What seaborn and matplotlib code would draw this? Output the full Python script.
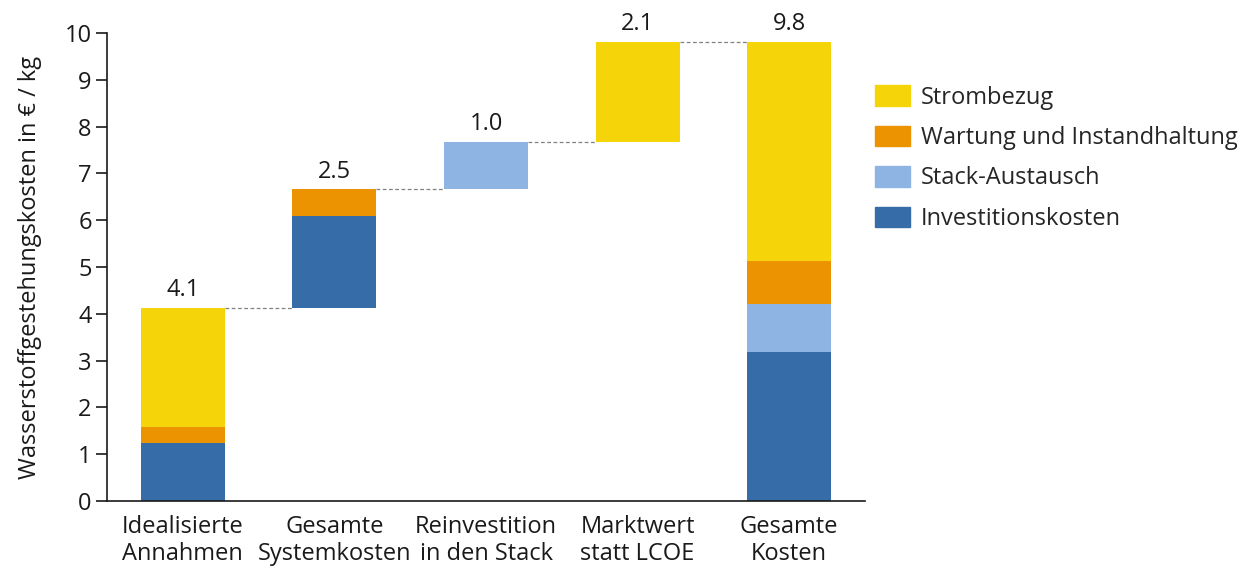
import matplotlib
matplotlib.use("Agg")
import matplotlib.pyplot as plt
import matplotlib.patches as mpatches
import seaborn as sns
import pandas as pd
import numpy as np

categories = ["Idealisierte\nAnnahmen", "Gesamte\nSystemkosten", "Reinvestition\nin den Stack",
              "Marktwert\nstatt LCOE", "Gesamte\nKosten"]
is_total = [False, False, False, False, True]
investitionskosten = [1.23, 1.95, 0.0, 0.0, 3.18]
stack_austausch = [0.0, 0.0, 1.02, 0.0, 1.02]
wartung = [0.35, 0.58, 0.0, 0.0, 0.93]
strombezug = [2.55, 0.0, 0.0, 2.13, 4.68]

series_names = ["Investitionskosten", "Stack-Austausch", "Wartung und Instandhaltung", "Strombezug"]
series_values = [investitionskosten, stack_austausch, wartung, strombezug]
colors = {"Strombezug": "#F5D50A", "Wartung und Instandhaltung": "#EB9300",
          "Stack-Austausch": "#8DB4E2", "Investitionskosten": "#366CA7"}

sns.set_theme(style="white")
plt.rcParams["font.family"] = ["Open Sans", "DejaVu Sans"]
FS = 17

fig = plt.figure(figsize=(12.52, 5.68), dpi=100)
ax = fig.add_axes([107 / 1252, 67 / 568, (865 - 107) / 1252, (501 - 33) / 568])

totals = np.sum(np.array(series_values), axis=0)
base = np.zeros(len(categories))
run = 0.0
for i in range(len(categories)):
    if is_total[i]:
        base[i] = 0.0
    else:
        base[i] = run
        run += totals[i]

bottom = base.copy()
width = 0.555
for name, vals in zip(series_names, series_values):
    df = pd.DataFrame({"cat": categories, "val": vals})
    sns.barplot(data=df, x="cat", y="val", order=categories, color=colors[name],
                bottom=bottom.copy(), width=width, linewidth=0, saturation=1,
                errorbar=None, ax=ax)
    bottom = bottom + np.array(vals)

tops = base + totals
for i in range(len(categories)):
    ax.text(i, tops[i] + 0.12, f"{totals[i]:.1f}", ha="center", va="bottom",
            fontsize=FS, color="#1a1a1a")
for i in range(len(categories) - 1):
    ax.plot([i + width / 2, i + 1 - width / 2], [tops[i], tops[i]], ls=(0, (3, 2)),
            color="#808080", lw=0.9)

ax.set_xlim(-0.5, len(categories) - 0.5)
ax.set_ylim(0, 10)
ax.set_yticks(range(0, 11))
ax.set_xlabel("")
ax.set_ylabel("Wasserstoffgestehungskosten in € / kg", fontsize=FS, color="#1a1a1a", labelpad=16)
for s in ["top", "right"]:
    ax.spines[s].set_visible(False)
for s in ["left", "bottom"]:
    ax.spines[s].set_color("#1a1a1a")
    ax.spines[s].set_linewidth(1.2)
ax.tick_params(axis="y", which="both", left=True, direction="out", length=8, width=1.2,
               labelsize=FS, colors="#1a1a1a", pad=3)
ax.tick_params(axis="x", which="both", bottom=False, labelsize=FS, colors="#1a1a1a", pad=4)
for t in ax.get_xticklabels():
    t.set_linespacing(1.15)

handles = [mpatches.Patch(color=colors[n], label=n) for n in reversed(series_names)]
fig.legend(handles=handles, loc="upper left", bbox_to_anchor=(866 / 1252, 1 - 76 / 568),
           frameon=False, fontsize=FS, handlelength=1.48, handleheight=0.95,
           handletextpad=0.45, labelspacing=0.68, borderaxespad=0)

fig.savefig("out.png", dpi=100, facecolor="white")
